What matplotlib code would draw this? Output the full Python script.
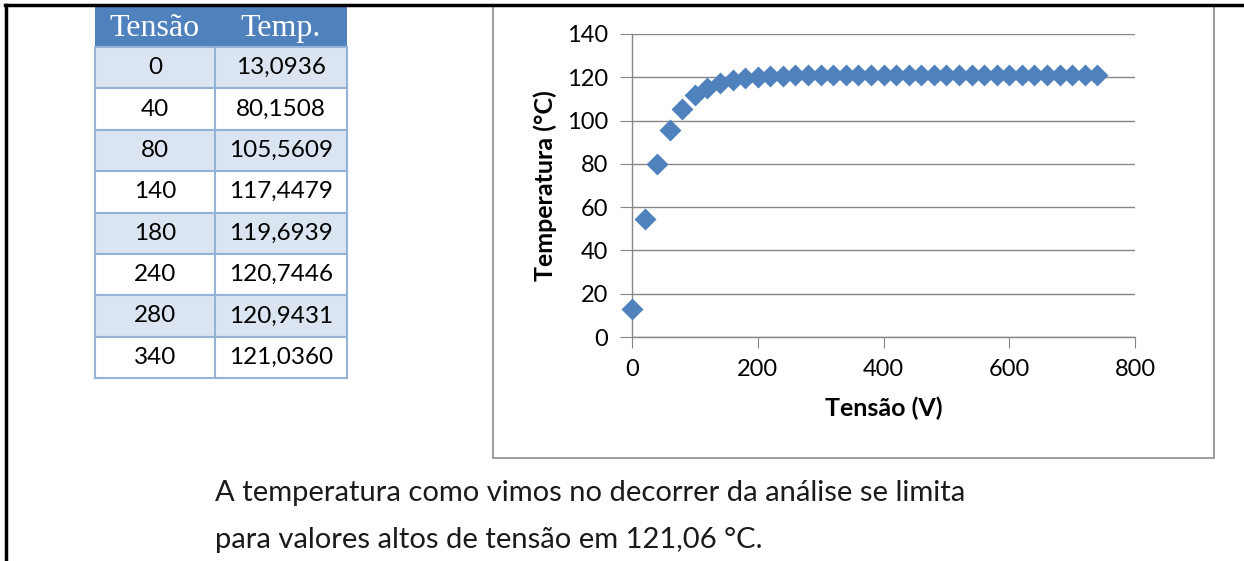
import numpy as np
import matplotlib.pyplot as plt
from matplotlib.patches import Rectangle
from matplotlib.lines import Line2D

# dados da tabela
tab_tensao = [0, 40, 80, 140, 180, 240, 280, 340]
tab_temp = [13.0936, 80.1508, 105.5609, 117.4479, 119.6939, 120.7446, 120.9431, 121.0360]

# dados do grafico (V, graus C)
tensao = [0, 20, 40, 60, 80, 100, 120, 140, 160, 180, 200, 220, 240, 260, 280, 300, 320, 340,
          360, 380, 400, 420, 440, 460, 480, 500, 520, 540, 560, 580, 600, 620, 640, 660,
          680, 700, 720, 740]
temp = [13.0936, 54.7, 80.1508, 95.8, 105.5609, 111.8, 115.2, 117.4479, 118.8, 119.6939,
        120.2, 120.5, 120.7446, 120.86, 120.9431, 120.99, 121.02, 121.0360,
        121.04, 121.05, 121.05, 121.05, 121.06, 121.06, 121.06, 121.06, 121.06, 121.06,
        121.06, 121.06, 121.06, 121.06, 121.06, 121.06, 121.06, 121.06, 121.06, 121.06]

W, H = 1244, 561
fig = plt.figure(figsize=(W / 100, H / 100), dpi=100)

def px_axes(x0, y0, x1, y1):
    # eixos posicionados em pixels (origem no canto superior esquerdo)
    return fig.add_axes([x0 / W, 1 - y1 / H, (x1 - x0) / W, (y1 - y0) / H])

# moldura da pagina
fig.add_artist(Line2D([5 / W, 1], [1 - 5 / H, 1 - 5 / H], color='black', lw=2.5))
fig.add_artist(Line2D([6 / W, 6 / W], [0, 1 - 5 / H], color='black', lw=2.5))

# ---- tabela ----
tx0, tx1, tsplit = 95, 347, 215
ty0, thead = 7, 47
rowh = (378 - thead) / len(tab_tensao)
tax = px_axes(0, 0, W, H)
tax.set_xlim(0, W)
tax.set_ylim(H, 0)
tax.axis('off')
bcol = '#95B3D7'
tax.add_patch(Rectangle((tx0, ty0), tx1 - tx0, thead - ty0, facecolor='#4F81BD', edgecolor='none'))
tax.text((tx0 + tsplit) / 2, (ty0 + thead) / 2 + 1, 'Tensão', color='white', ha='center', va='center',
         family='Liberation Serif', fontsize=23)
tax.text((tsplit + tx1) / 2, (ty0 + thead) / 2 + 1, 'Temp.', color='white', ha='center', va='center',
         family='Liberation Serif', fontsize=23)
for i, (v, t) in enumerate(zip(tab_tensao, tab_temp)):
    y = thead + i * rowh
    fc = '#DBE5F1' if i % 2 == 0 else 'white'
    tax.add_patch(Rectangle((tx0, y), tx1 - tx0, rowh, facecolor=fc, edgecolor=bcol, lw=1.5))
    tax.plot([tsplit, tsplit], [y, y + rowh], color=bcol, lw=1.5)
    tax.text((tx0 + tsplit) / 2, y + rowh / 2, str(v), ha='center', va='center',
             family='Lato', fontsize=17.5)
    tax.text((tsplit + tx1) / 2, y + rowh / 2, f'{t:.4f}'.replace('.', ','), ha='center', va='center',
             family='Lato', fontsize=17.5)

# caixa do grafico
tax.add_patch(Rectangle((493, 5), 1214 - 493, 458 - 5, facecolor='none', edgecolor='#8C8C8C', lw=1.2))

# texto manuscrito
tax.text(215, 493, 'A temperatura como vimos no decorrer da análise se limita',
         family='Lato', fontsize=21, color='#1a1a1a', va='center')
tax.text(215, 540, 'para valores altos de tensão em 121,06 °C.',
         family='Lato', fontsize=21, color='#1a1a1a', va='center')

# ---- grafico ----
ax = px_axes(632, 34, 1135, 337)
gcol = '#868686'
ax.scatter(tensao, temp, marker='D', s=125, color='#4F81BD', zorder=3, clip_on=False, linewidths=0)
ax.set_xlim(0, 800)
ax.set_ylim(0, 140)
ax.set_xticks([0, 200, 400, 600, 800])
ax.set_yticks(range(0, 141, 20))
ax.yaxis.grid(True, color=gcol, lw=1)
ax.set_axisbelow(True)
for s in ['top', 'right']:
    ax.spines[s].set_visible(False)
for s in ['left', 'bottom']:
    ax.spines[s].set_color(gcol)
    ax.spines[s].set_linewidth(1)
ax.tick_params(axis='y', length=9, color=gcol, pad=8, labelsize=17)
ax.tick_params(axis='x', length=8, color=gcol, pad=8, labelsize=17)
for lab in ax.get_xticklabels() + ax.get_yticklabels():
    lab.set_family('Lato')
ax.set_xlabel('Tensão (V)', family='Lato', fontweight='bold', fontsize=18, labelpad=12)
ax.set_ylabel('Temperatura (°C)', family='Lato', fontweight='bold', fontsize=18, labelpad=7)

fig.savefig('out.png', dpi=100)
